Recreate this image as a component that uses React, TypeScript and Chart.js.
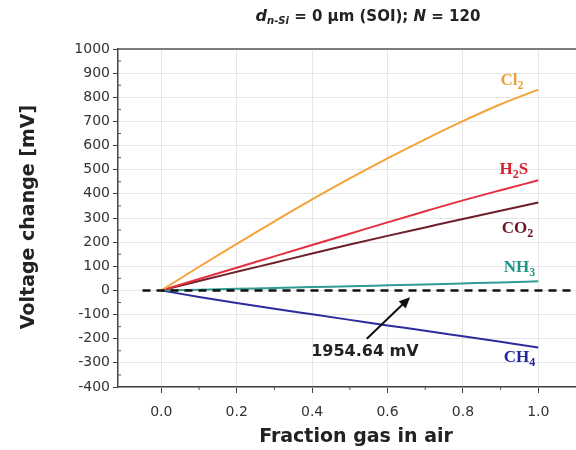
import React, { useEffect, useRef } from "react";
import { Chart, registerables } from "chart.js";

Chart.register(...registerables);

// ---- data ----
const fractions = [0, 0.1, 0.2, 0.3, 0.4, 0.5, 0.6, 0.7, 0.8, 0.9, 1.0];
const cl2 = [0, 98, 193, 286, 377, 464, 547, 626, 701, 771, 832];
const h2s = [0, 47, 94, 141, 188, 235, 282, 328, 373, 415, 456];
const co2 = [0, 39, 77, 115, 153, 190, 226, 261, 296, 330, 364];
const nh3 = [0, 3, 7, 10, 14, 17, 21, 25, 29, 33, 38];
const ch4 = [0, -27, -52, -76, -99, -122, -145, -167, -190, -213, -236];
const baselineX = [-0.05, 1.15];
const baselineY = [0, 0];

const seriesNames = ["Cl2", "H2S", "CO2", "NH3", "CH4"];
const seriesValues = [cl2, h2s, co2, nh3, ch4];
const lineColors = ["#F2A33A", "#E62E3E", "#6E1F2C", "#2E9C94", "#2C2C9C"];
const labelColors = ["#E9A03C", "#D2232F", "#6A1624", "#1F948A", "#2424A0"];
// label anchor in data coordinates
const labelX = [0.93, 0.935, 0.945, 0.95, 0.95];
const labelY = [868, 500, 254, 93, -280];
// label parts: [main, subscript, tail]
const labelParts: [string, string, string][] = [
  ["Cl", "2", ""],
  ["H", "2", "S"],
  ["CO", "2", ""],
  ["NH", "3", ""],
  ["CH", "4", ""],
];

const annotationText = "1954.64 mV";
const annotationPos = [0.54, -255];
const arrowFrom = [0.545, -200];
const arrowTo = [0.66, -28];

const xTicksMinor = [0.1, 0.3, 0.5, 0.7, 0.9];
const yTicksMinor = [-350, -250, -150, -50, 50, 150, 250, 350, 450, 550, 650, 750, 850, 950];

type Seg = { text: string; font: string; dy: number; color: string };

function drawRich(ctx: CanvasRenderingContext2D, segs: Seg[], cx: number, cy: number) {
  let total = 0;
  const widths = segs.map((s) => {
    ctx.font = s.font;
    const w = ctx.measureText(s.text).width;
    total += w;
    return w;
  });
  let x = cx - total / 2;
  ctx.textBaseline = "middle";
  ctx.textAlign = "left";
  segs.forEach((s, i) => {
    ctx.font = s.font;
    ctx.fillStyle = s.color;
    ctx.fillText(s.text, x, cy + s.dy);
    x += widths[i];
  });
}

const decorPlugin = {
  id: "decor",
  beforeDraw(chart: any) {
    const { ctx } = chart;
    ctx.save();
    ctx.fillStyle = "#ffffff";
    ctx.fillRect(0, 0, chart.width, chart.height);
    ctx.restore();
  },
  afterDraw(chart: any) {
    const { ctx, chartArea } = chart;
    const xs = chart.scales.x;
    const ys = chart.scales.y;
    ctx.save();
    // top border
    ctx.strokeStyle = "#555";
    ctx.lineWidth = 1.5;
    ctx.beginPath();
    ctx.moveTo(chartArea.left, chartArea.top);
    ctx.lineTo(chartArea.right, chartArea.top);
    ctx.stroke();
    // minor ticks
    ctx.lineWidth = 1;
    ctx.beginPath();
    yTicksMinor.forEach((v) => {
      const py = ys.getPixelForValue(v);
      ctx.moveTo(chartArea.left, py);
      ctx.lineTo(chartArea.left + 3, py);
    });
    xTicksMinor.forEach((v) => {
      const px = xs.getPixelForValue(v);
      ctx.moveTo(px, chartArea.bottom);
      ctx.lineTo(px, chartArea.bottom + 3);
    });
    ctx.stroke();

    // title
    const black = "#222";
    const tf = "'DejaVu Sans'";
    drawRich(
      ctx,
      [
        { text: "d", font: `italic bold 16px ${tf}`, dy: 0, color: black },
        { text: "n-Si", font: `italic bold 10px ${tf}`, dy: 4, color: black },
        { text: " = 0 \u00b5m (SOI); ", font: `bold 15px ${tf}`, dy: 0, color: black },
        { text: "N", font: `italic bold 15px ${tf}`, dy: 0, color: black },
        { text: " = 120", font: `bold 15px ${tf}`, dy: 0, color: black },
      ],
      368,
      17
    );

    // axis titles
    ctx.fillStyle = black;
    ctx.font = "bold 19px 'DejaVu Sans'";
    ctx.textAlign = "center";
    ctx.textBaseline = "middle";
    ctx.fillText("Fraction gas in air", 356, 437);
    ctx.save();
    ctx.translate(29, 217);
    ctx.rotate(-Math.PI / 2);
    ctx.fillText("Voltage change [mV]", 0, 0);
    ctx.restore();

    // series labels
    seriesNames.forEach((_, i) => {
      const [a, sub, b] = labelParts[i];
      const px = xs.getPixelForValue(labelX[i]);
      const py = ys.getPixelForValue(labelY[i]);
      const segs: Seg[] = [
        { text: a, font: "bold 17px 'Liberation Serif'", dy: 0, color: labelColors[i] },
        { text: sub, font: "bold 12px 'Liberation Serif'", dy: 5, color: labelColors[i] },
      ];
      if (b) segs.push({ text: b, font: "bold 17px 'Liberation Serif'", dy: 0, color: labelColors[i] });
      drawRich(ctx, segs, px, py);
    });

    // annotation arrow
    const x1 = xs.getPixelForValue(arrowFrom[0]);
    const y1 = ys.getPixelForValue(arrowFrom[1]);
    const x2 = xs.getPixelForValue(arrowTo[0]);
    const y2 = ys.getPixelForValue(arrowTo[1]);
    const ang = Math.atan2(y2 - y1, x2 - x1);
    const hl = 11;
    const hw = 5;
    ctx.strokeStyle = "#111";
    ctx.fillStyle = "#111";
    ctx.lineWidth = 2;
    ctx.beginPath();
    ctx.moveTo(x1, y1);
    ctx.lineTo(x2 - Math.cos(ang) * hl * 0.8, y2 - Math.sin(ang) * hl * 0.8);
    ctx.stroke();
    ctx.beginPath();
    ctx.moveTo(x2, y2);
    ctx.lineTo(
      x2 - Math.cos(ang) * hl - Math.sin(ang) * hw,
      y2 - Math.sin(ang) * hl + Math.cos(ang) * hw
    );
    ctx.lineTo(
      x2 - Math.cos(ang) * hl + Math.sin(ang) * hw,
      y2 - Math.sin(ang) * hl - Math.cos(ang) * hw
    );
    ctx.closePath();
    ctx.fill();

    ctx.font = "bold 16px 'DejaVu Sans'";
    ctx.textAlign = "center";
    ctx.textBaseline = "middle";
    ctx.fillStyle = black;
    ctx.fillText(
      annotationText,
      xs.getPixelForValue(annotationPos[0]),
      ys.getPixelForValue(annotationPos[1])
    );
    ctx.restore();
  },
};

export default function App() {
  const ref = useRef<HTMLCanvasElement | null>(null);
  useEffect(() => {
    if (!ref.current) return;
    const datasets: any[] = [
      {
        label: "baseline",
        data: baselineX.map((x, i) => ({ x, y: baselineY[i] })),
        borderColor: "#111",
        borderWidth: 2.5,
        borderDash: [8, 6],
        pointRadius: 0,
        fill: false,
      },
    ];
    seriesNames.forEach((name, i) => {
      datasets.push({
        label: name,
        data: fractions.map((x, j) => ({ x, y: seriesValues[i][j] })),
        borderColor: lineColors[i],
        borderWidth: 2,
        pointRadius: 0,
        cubicInterpolationMode: "monotone",
        fill: false,
      });
    });
    const chart = new Chart(ref.current, {
      type: "line",
      data: { datasets },
      options: {
        animation: false,
        responsive: false,
        devicePixelRatio: 1,
        layout: { padding: { left: 0, right: 0, top: 49, bottom: 0 } },
        plugins: { legend: { display: false }, tooltip: { enabled: false }, title: { display: false } },
        scales: {
          x: {
            type: "linear",
            min: -0.115,
            max: 1.1,
            afterFit: (s: any) => {
              s.height = 63;
            },
            ticks: {
              stepSize: 0.2,
              includeBounds: false,
              autoSkip: false,
              maxRotation: 0,
              padding: 11,
              color: "#333",
              font: { family: "'DejaVu Sans'", size: 14 },
              callback: (v: any) => Number(v).toFixed(1),
            },
            grid: { color: "#e6e6e6", lineWidth: 1, tickColor: "#444", tickLength: 6, drawTicks: true },
            border: { display: true, color: "#444", width: 1.5 },
          },
          y: {
            type: "linear",
            min: -400,
            max: 1000,
            afterFit: (s: any) => {
              s.width = 118;
            },
            ticks: {
              stepSize: 100,
              autoSkip: false,
              padding: 3,
              color: "#333",
              font: { family: "'DejaVu Sans'", size: 14 },
              callback: (v: any) => String(v),
            },
            grid: { color: "#e6e6e6", lineWidth: 1, tickColor: "#444", tickLength: 5, drawTicks: true },
            border: { display: true, color: "#444", width: 1.5 },
          },
        },
      },
      plugins: [decorPlugin],
    });
    return () => chart.destroy();
  }, []);
  return (
    <div style={{ position: "absolute", left: 0, top: 0, width: 576, height: 450 }}>
      <canvas ref={ref} width={576} height={450} style={{ display: "block" }} />
    </div>
  );
}
